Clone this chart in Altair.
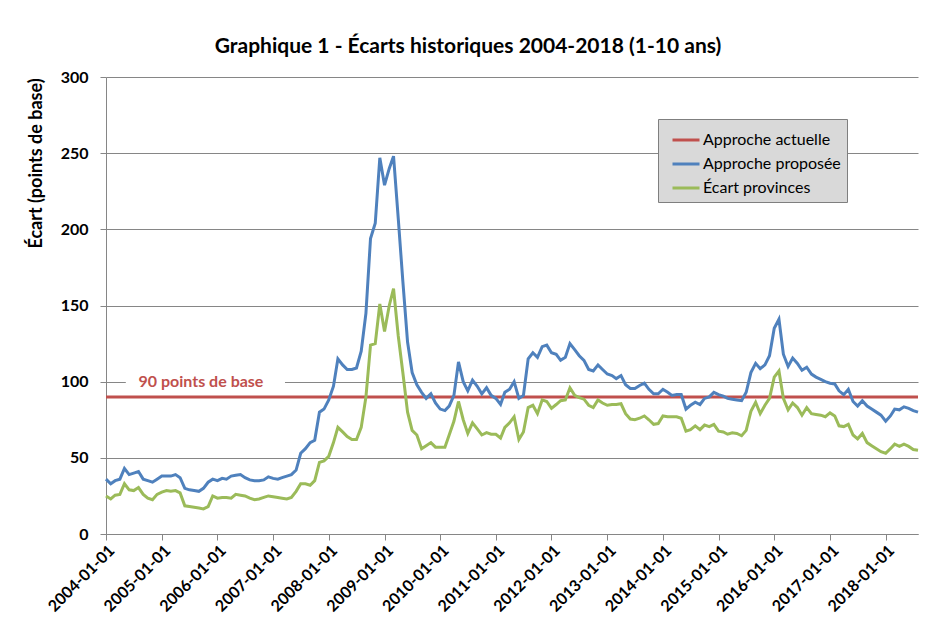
import altair as alt
import pandas as pd

# ---------------- data ----------------
START_MONTH = "2004-01-01"
N_MONTHS = 176  # 2004-01 .. 2018-08, monthly
months = pd.date_range(START_MONTH, periods=N_MONTHS, freq="MS").strftime("%Y-%m-%d").tolist()

approche_proposee = [
    36, 33, 35, 36, 43, 39, 40, 41, 36, 35, 34, 36, 38, 38, 38, 39, 37, 30, 29, 28.5, 28, 30, 34, 36, 35, 36.5, 36, 38, 38.5, 39, 37, 35.5, 35,
    35, 35.5, 37.5, 36.5, 36, 37, 38, 39, 42, 53, 56, 60, 61.5, 80, 82, 88, 97, 115, 111, 108, 108, 109, 120, 145, 194, 204, 247, 229, 240, 248, 207, 166, 126, 106,
    98, 93, 89, 92, 86, 82, 81, 84, 91, 113, 100, 94, 101, 97, 92, 96, 91, 89, 85, 93, 95, 100, 89, 91, 115, 119, 116, 123, 124, 119, 118, 114,
    116, 125, 121, 117, 114, 108, 107, 111, 108, 105, 104, 102, 104, 98, 95.5, 95.5, 97.5, 99, 95, 92, 92, 95, 93, 91, 91.5, 91.5, 82, 84.5, 86.5, 85, 89, 90, 93, 91.5,
    90.5, 89, 88.5, 88, 87.5, 93, 106, 112, 108.5, 111, 117, 135, 141, 118, 110, 115.5, 112, 107.5, 109.5, 105, 103, 101.5, 100, 99, 98.5, 94, 91.5, 95, 87, 84, 87.5, 84, 82, 80, 78, 74, 77.5, 82, 81.5, 83.5, 82.5, 81, 80,
]

ecart_provinces = [
    25, 23, 25.5, 26, 33, 29, 28.5, 30.5, 26, 23.5, 22.5, 26, 27.5, 28.5, 28, 28.5, 27, 18.5, 18, 17.5, 17, 16.5, 18, 25, 23.5, 24, 24, 23.5, 26, 25.5, 25, 23.5, 22.5,
    23, 24, 25, 24.5, 24, 23.5, 23, 24, 28, 33, 33, 32, 35, 47, 48, 51, 60, 70, 67, 64, 62, 62, 70, 90, 124, 125, 151, 133, 150, 161, 130, 106, 80, 68,
    65, 56, 58, 60, 57, 57, 57, 65, 74, 87, 75, 66, 73, 69, 65, 66.5, 65.5, 65.5, 63, 70, 73, 77, 62, 67, 83, 84.5, 79, 88, 87, 82.5, 85, 87.5,
    88, 96, 91, 89.5, 88.5, 84.5, 83, 88, 86, 84.5, 85, 85, 85.5, 79, 75.5, 75, 76, 77.5, 75, 72, 72.5, 77.5, 77, 77, 77, 76, 67.5, 68.5, 71, 68.5, 71.5, 70.5, 72, 67.5,
    67, 65.5, 66.5, 66, 64.5, 68, 80.5, 86.5, 79, 84.5, 89, 103, 107, 89, 81.5, 86, 83, 78, 83, 79, 78.5, 78, 77, 79.5, 77.5, 71, 70.5, 72, 65, 62.5, 66, 60, 58, 56, 54, 53, 56, 59, 57.5, 59, 57.5, 55.5, 55,
]

approche_actuelle_niveau = 90

series_names = ["Approche actuelle", "Approche proposée", "Écart provinces"]
series_colors = ["#C0504D", "#4F81BD", "#9BBB59"]

annotation_text = "90 points de base"
annotation_date = "2005-09-15"
annotation_value = 100
gap_dates = ["2004-05-10", "2007-03-20"]
gap_values = [97, 103]

x_tick_years = list(range(2004, 2019))
y_ticks = [0, 50, 100, 150, 200, 250, 300]

title_text = "Graphique 1 - Écarts historiques 2004-2018 (1-10 ans)"
y_title = "Écart (points de base)"

# ---------------- tables ----------------
rows = []
for i, m in enumerate(months):
    rows.append({"date": m, "serie": series_names[0], "ecart": approche_actuelle_niveau, "ordre": 0})
    rows.append({"date": m, "serie": series_names[1], "ecart": approche_proposee[i], "ordre": 1})
    rows.append({"date": m, "serie": series_names[2], "ecart": ecart_provinces[i], "ordre": 2})
df = pd.DataFrame(rows)

ann_df = pd.DataFrame({"date": [annotation_date], "ecart": [annotation_value], "label": [annotation_text]})
gap_df = pd.DataFrame({"d1": [gap_dates[0]], "d2": [gap_dates[1]], "v1": [gap_values[0]], "v2": [gap_values[1]]})

FONT = "Lato"
GRID = "#868686"

x_scale = alt.Scale(
    type="utc",
    domain=[alt.DateTime(year=2004, month=1, date=1, utc=True), alt.DateTime(year=2018, month=8, date=1, utc=True)],
)
y_scale = alt.Scale(domain=[0, 300])

x_axis = alt.Axis(
    values=[alt.DateTime(year=y, month=1, date=1, utc=True) for y in x_tick_years],
    format="%Y-%m-%d",
    labelAngle=-45,
    labelAlign="right",
    labelBaseline="top",
    labelFont=FONT,
    labelFontSize=16,
    labelFontWeight="bold",
    labelColor="black",
    labelPadding=2,
    tickSize=6,
    tickColor=GRID,
    domainColor=GRID,
    grid=False,
    title=None,
    labelOverlap=False,
)
y_axis = alt.Axis(
    values=y_ticks,
    title=y_title,
    titleFont=FONT,
    titleFontSize=18,
    titleFontWeight="bold",
    titleColor="black",
    titleX=-70,
    titleY=86,
    titleAlign="center",
    titleBaseline="middle",
    titleAngle=270,
    labelFont=FONT,
    labelFontSize=16,
    labelFontWeight="bold",
    labelColor="black",
    labelPadding=12,
    tickSize=6,
    tickColor=GRID,
    domainColor=GRID,
    gridColor=GRID,
    gridWidth=1,
)

gap = alt.Chart(gap_df).mark_rect(color="white").encode(
    x=alt.X("d1:T", scale=x_scale, axis=x_axis),
    x2="d2:T",
    y=alt.Y("v1:Q", scale=y_scale, axis=y_axis),
    y2="v2:Q",
)

lines = alt.Chart(df).mark_line(strokeWidth=3).encode(
    x=alt.X("date:T", scale=x_scale, axis=x_axis),
    y=alt.Y("ecart:Q", scale=y_scale, axis=y_axis),
    color=alt.Color(
        "serie:N",
        scale=alt.Scale(domain=series_names, range=series_colors),
        legend=alt.Legend(
            title=None,
            orient="none",
            legendX=552,
            legendY=42,
            fillColor="#D9D9D9",
            strokeColor="#7F7F7F",
            padding=6,
            symbolOffset=7,
            symbolType="stroke",
            symbolSize=729,
            symbolStrokeWidth=3,
            labelFont=FONT,
            labelFontSize=16,
            labelColor="black",
            labelOffset=2,
            labelLimit=400,
            rowPadding=1,
        ),
    ),
    order=alt.Order("ordre:Q"),
    detail="serie:N",
)

ann = alt.Chart(ann_df).mark_text(
    font=FONT, fontSize=16, fontWeight="bold", color="#C0504D", align="center", baseline="middle"
).encode(
    x=alt.X("date:T", scale=x_scale, axis=x_axis),
    y=alt.Y("ecart:Q", scale=y_scale, axis=y_axis),
    text="label:N",
)

chart = (
    alt.layer(gap, lines, ann)
    .properties(
        width=812,
        height=457,
        autosize=alt.AutoSizeParams(type="none"),
        padding={"left": 98, "top": 69, "right": 4, "bottom": 80},
        title=alt.TitleParams(
            text=title_text,
            font=FONT,
            fontSize=21,
            fontWeight="bold",
            color="black",
            anchor="middle",
            frame="group",
            dx=-44,
            offset=12,
        ),
        background="white",
    )
    .configure_view(stroke="transparent")
)

chart.save("out.html", embed_options={"renderer": "svg", "actions": False})
